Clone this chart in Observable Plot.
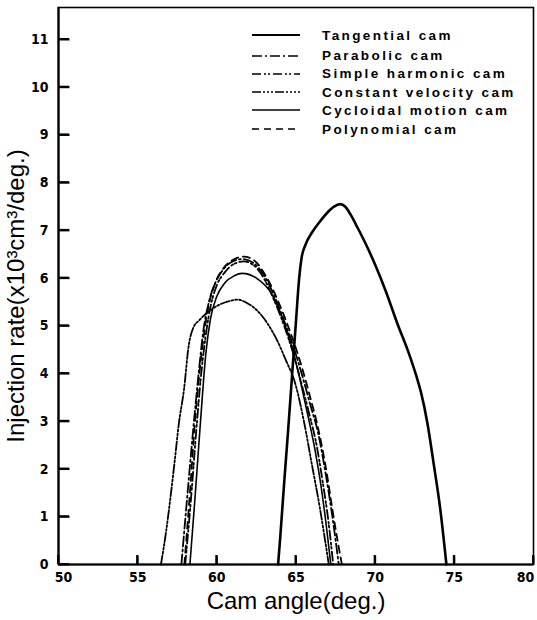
<!DOCTYPE html>
<html><head><meta charset="utf-8">
<script src="https://cdn.jsdelivr.net/npm/d3@7"></script>
<script src="https://cdn.jsdelivr.net/npm/@observablehq/plot@0.6"></script>
<style>
body{margin:0;background:#fff;}
#wrap{position:relative;width:537px;height:620px;}
#ticks{position:absolute;left:0;top:0;width:537px;height:620px;pointer-events:none;z-index:5;}
.lrow{position:absolute;left:250px;height:18px;display:flex;align-items:center;}
.lrow svg{width:52px;height:10px;display:block;}
.lrow span{position:absolute;left:72px;white-space:nowrap;font-family:"Liberation Sans",Arial,sans-serif;font-weight:bold;font-size:13.5px;letter-spacing:2.4px;color:#000;}
</style></head><body><div id="wrap"></div>
<script>
// ---- data ----
const xTicks = [50, 55, 60, 65, 70, 75, 80];
const yTicks = [0, 1, 2, 3, 4, 5, 6, 7, 8, 9, 10, 11];
const seriesNames = ["Tangential cam", "Parabolic cam", "Simple harmonic cam", "Constant velocity cam", "Cycloidal motion cam", "Polynomial cam"];

const tangentialX = [63.87, 64.0, 64.25, 64.5, 64.75, 65.0, 65.2, 65.35, 65.6, 66.0, 66.5, 67.0, 67.4, 67.8, 68.1, 68.45, 68.9, 69.4, 70.0, 70.7, 71.4, 72.1, 72.6, 72.9, 73.3, 73.7, 74.1, 74.5];
const tangentialY = [0, 0.55, 1.7, 2.8, 3.95, 5.1, 6.0, 6.42, 6.7, 6.95, 7.18, 7.38, 7.5, 7.55, 7.5, 7.33, 7.05, 6.72, 6.28, 5.7, 5.05, 4.45, 3.95, 3.6, 2.96, 2.1, 1.19, 0];

const parabolicX = [57.76, 58.1, 58.5, 58.85, 59.15, 59.5, 59.9, 60.4, 61.0, 61.6, 62.3, 63.0, 63.6, 64.2, 64.8, 65.4, 65.9, 66.4, 66.9, 67.3, 67.7];
const parabolicY = [0, 1.3, 2.8, 4.0, 4.9, 5.5, 5.9, 6.18, 6.35, 6.4, 6.32, 6.05, 5.65, 5.15, 4.6, 3.95, 3.35, 2.75, 1.85, 1.0, 0];

const harmonicX = [58.0, 58.35, 58.7, 59.0, 59.3, 59.6, 60.0, 60.5, 61.1, 61.7, 62.4, 63.0, 63.6, 64.2, 64.8, 65.3, 65.8, 66.3, 66.7, 67.05, 67.35];
const harmonicY = [0, 1.3, 2.8, 3.95, 4.8, 5.4, 5.85, 6.12, 6.3, 6.35, 6.25, 5.98, 5.55, 5.05, 4.45, 3.85, 3.2, 2.5, 1.7, 0.9, 0];

const constVelX = [56.47, 56.8, 57.07, 57.35, 57.6, 57.92, 58.23, 58.5, 58.9, 59.2, 59.7, 60.2, 60.8, 61.3, 61.9, 62.55, 63.2, 63.8, 64.4, 64.9, 65.5, 66.0, 66.5, 67.07];
const constVelY = [0, 0.7, 1.4, 2.2, 2.95, 3.65, 4.6, 4.95, 5.12, 5.22, 5.35, 5.45, 5.52, 5.55, 5.48, 5.32, 5.05, 4.7, 4.25, 3.85, 3.0, 2.1, 1.2, 0];

const cycloidalX = [58.3, 58.6, 58.97, 59.3, 59.6, 60.0, 60.5, 61.1, 61.6, 62.5, 63.5, 64.1, 64.7, 65.2, 65.7, 66.2, 66.6, 66.9, 67.2];
const cycloidalY = [0, 1.3, 3.0, 4.4, 5.15, 5.62, 5.9, 6.05, 6.1, 6.0, 5.65, 5.2, 4.6, 3.95, 3.2, 2.4, 1.6, 0.85, 0];

const polynomialX = [57.95, 58.3, 58.6, 58.9, 59.2, 59.5, 59.9, 60.4, 61.0, 61.7, 62.4, 63.0, 63.6, 64.2, 64.8, 65.4, 65.9, 66.4, 66.9, 67.3, 67.6, 67.9];
const polynomialY = [0, 1.5, 2.9, 4.0, 4.85, 5.45, 5.9, 6.2, 6.38, 6.45, 6.36, 6.1, 5.72, 5.25, 4.72, 4.1, 3.5, 2.85, 2.0, 1.15, 0.55, 0];

const xLabel = "Cam angle(deg.)";
const yLabel = "Injection rate(x10\u00B3cm\u00B3/deg.)";

// ---- layout ----
const W = 537, H = 620, mL = 58, mR = 4, mT = 7, mB = 56;
const innerW = W - mL - mR, innerH = H - mT - mB;
const xDomain = [50, 80], yDomain = [0, 11.67];
const yTickPx = 11, xTickPx = 9;
const yTickLen = yTickPx * (xDomain[1] - xDomain[0]) / innerW;
const xTickLen = xTickPx * (yDomain[1] - yDomain[0]) / innerH;

// ---- styles per series ----
const styles = [
  {name: seriesNames[0], xs: tangentialX, ys: tangentialY, dash: null, w: 2.6},
  {name: seriesNames[1], xs: parabolicX, ys: parabolicY, dash: "10,3,2,3", w: 1.8},
  {name: seriesNames[2], xs: harmonicX, ys: harmonicY, dash: "9,3,2,2,2,3", w: 1.8},
  {name: seriesNames[3], xs: constVelX, ys: constVelY, dash: "9,2,2,2,2,2,2,2", w: 1.8},
  {name: seriesNames[4], xs: cycloidalX, ys: cycloidalY, dash: null, w: 1.6},
  {name: seriesNames[5], xs: polynomialX, ys: polynomialY, dash: "7,5", w: 1.8}
];

const lineMarks = styles.map(s => {
  const data = s.xs.map((x, i) => ({x, y: s.ys[i]}));
  const opts = {x: "x", y: "y", stroke: "black", strokeWidth: s.w, curve: "monotone-x"};
  if (s.dash) opts.strokeDasharray = s.dash;
  return Plot.line(data, opts);
});

const tickFont = {fontSize: 14, fontWeight: "bold"};
const chart = Plot.plot({
  width: W, height: H,
  marginLeft: mL, marginRight: mR, marginTop: mT, marginBottom: mB,
  style: {background: "white", color: "black"},
  x: {domain: xDomain},
  y: {domain: yDomain},
  marks: [
    ...lineMarks,
    Plot.axisX(xTicks.slice(1, -1), {tickSize: 0, tickPadding: 8, label: null, ...tickFont, tickFormat: d => d}),
    Plot.axisX([xTicks[0]], {tickSize: 0, tickPadding: 8, dx: 5, label: null, ...tickFont, tickFormat: d => d}),
    Plot.axisX([xTicks[xTicks.length - 1]], {tickSize: 0, tickPadding: 8, dx: -8, label: null, ...tickFont, tickFormat: d => d}),
    Plot.axisY(yTicks, {tickSize: 0, tickPadding: 10, label: null, ...tickFont, tickFormat: d => d}),
    Plot.frame({stroke: "black", strokeWidth: 1.6}),
    Plot.ruleX([xDomain[0]], {stroke: "black", strokeWidth: 2.2}),
    Plot.ruleY([yDomain[0]], {stroke: "black", strokeWidth: 2.2}),
    Plot.text([xLabel], {frameAnchor: "bottom", textAnchor: "middle", dy: 44, fontSize: 24, fontFamily: "Liberation Sans, Arial, sans-serif", ariaLabel: "xlabel"}),
    Plot.text([yLabel], {frameAnchor: "left", textAnchor: "middle", rotate: -90, dx: -42, dy: 10, fontSize: 24, fontFamily: "Liberation Sans, Arial, sans-serif", ariaLabel: "ylabel"}),
    Plot.link(yTicks, {x1: () => xDomain[0], x2: () => xDomain[0] + yTickLen, y1: d => d, y2: d => d, stroke: "black", strokeWidth: 2}),
    Plot.link(xTicks, {x1: d => d, x2: d => d, y1: () => yDomain[0], y2: () => yDomain[0] + xTickLen, stroke: "black", strokeWidth: 2})
  ]
});
chart.style.fontFamily = "'DejaVu Sans Condensed', 'Liberation Sans', sans-serif";
d3.select(chart).selectAll('g[aria-label="ylabel"] text').style("letter-spacing", "4.2px");
d3.select(chart).selectAll('g[aria-label="xlabel"] text').style("letter-spacing", "0.3px");

const wrap = document.getElementById("wrap");
wrap.appendChild(chart);

// inward ticks on an overlay, positioned through Plot's own scales
let fx, fy;
try {
  const sx = chart.scale("x"), sy = chart.scale("y");
  fx = v => sx.apply(v); fy = v => sy.apply(v);
  if (!isFinite(fx(xDomain[0])) || !isFinite(fy(yDomain[0]))) throw new Error("bad");
} catch (e) {
  const lx = d3.scaleLinear(xDomain, [mL, W - mR]);
  const ly = d3.scaleLinear(yDomain, [H - mB, mT]);
  fx = v => lx(v); fy = v => ly(v);
}
const ov = d3.select(wrap).append("svg").attr("id", "ticks")
  .attr("width", W).attr("height", H).attr("viewBox", `0 0 ${W} ${H}`);
const tg = ov.append("g").attr("stroke", "#000").attr("stroke-width", 2);
yTicks.forEach(v => {
  const px = fx(xDomain[0]), py = fy(v);
  tg.append("line").attr("x1", px).attr("x2", px + yTickPx).attr("y1", py).attr("y2", py);
});
xTicks.forEach(v => {
  const px = fx(v), py = fy(yDomain[0]);
  tg.append("line").attr("x1", px).attr("x2", px).attr("y1", py).attr("y2", py - xTickPx);
});

// ---- legend ----
const rowCenters = [35, 55.5, 73.5, 92, 110, 129];
styles.forEach((s, i) => {
  const row = document.createElement("div");
  row.className = "lrow";
  row.style.top = (rowCenters[i] - 9) + "px";
  const sv = d3.create("svg").attr("viewBox", "0 0 52 10");
  sv.append("line").attr("x1", 2).attr("x2", 50).attr("y1", 5).attr("y2", 5)
    .attr("stroke", "black").attr("stroke-width", i === 0 ? 2.2 : 1.6)
    .attr("stroke-dasharray", s.dash || null);
  row.appendChild(sv.node());
  const sp = document.createElement("span");
  sp.textContent = s.name;
  row.appendChild(sp);
  wrap.appendChild(row);
});
</script></body></html>
